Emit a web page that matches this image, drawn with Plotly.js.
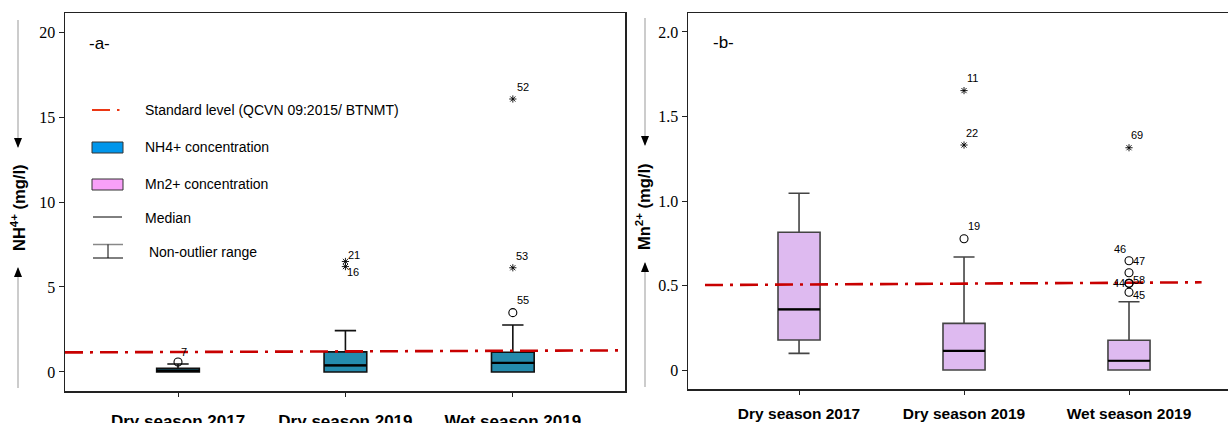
<!DOCTYPE html>
<html><head><meta charset="utf-8">
<script src="https://cdn.plot.ly/plotly-3.0.1.min.js"></script>
<style>html,body{margin:0;padding:0;background:#fff}#chart{width:1228px;height:423px}</style>
</head><body><div id="chart"></div>
<script>
// ---------- DATA ----------
const categories = ['Dry season 2017', 'Dry season 2019', 'Wet season 2019'];

// NH4+ (panel a)
const nh4Q1     = [0.00, 0.00, 0.00];
const nh4Median = [0.08, 0.39, 0.53];
const nh4Q3     = [0.22, 1.18, 1.16];
const nh4Lower  = [0.00, 0.00, 0.00];
const nh4Upper  = [0.47, 2.43, 2.76];
const nh4OutCat  = [0, 1, 1, 2, 2, 2];
const nh4OutVal  = [0.59, 6.50, 6.20, 16.06, 6.13, 3.49];
const nh4OutId   = ['7', '21', '16', '52', '53', '55'];
const nh4OutKind = ['o', '*', '*', '*', '*', 'o'];
const nh4Standard = [1.15, 1.27];   // standard level line (left end, right end)

// Mn2+ (panel b)
const mnQ1     = [0.178, 0.000, 0.000];
const mnMedian = [0.359, 0.114, 0.055];
const mnQ3     = [0.815, 0.276, 0.176];
const mnLower  = [0.099, 0.000, 0.000];
const mnUpper  = [1.046, 0.669, 0.404];
const mnOutCat  = [1, 1, 1, 2, 2, 2, 2, 2, 2];
const mnOutVal  = [1.653, 1.331, 0.777, 1.315, 0.647, 0.576, 0.513, 0.513, 0.460];
const mnOutId   = ['11', '22', '19', '69', '47', '46', '44', '58', '45'];
const mnOutKind = ['*', '*', 'o', '*', 'o', 'o', 'o', 'o', 'o'];
const mnStandard = [0.503, 0.519];

const yTicksA = [0, 5, 10, 15, 20];
const yTickTextA = ['0', '5', '10', '15', '20'];
const yTicksB = [0, 0.5, 1.0, 1.5, 2.0];
const yTickTextB = ['0', '0.5', '1.0', '1.5', '2.0'];

// ---------- STYLE / LAYOUT ----------
const W = 1228, H = 423;
const px = v => v / W;
const py = v => 1 - v / H;
const xRangeA = [-0.675, 2.67], yRangeA = [-1.12, 21.12];
const xRangeB = [-0.673, 2.60], yRangeB = [-0.112, 2.112];
const stdSpanB = [-0.57, 2.44];
const BOXW = 0.255;
// label offsets [dx, dy(px, down positive)]
const nh4LabelOff = [[6,-10],[9,-6],[8,5],[10,-12],[9,-12],[10,-13]];
const mnLabelOff  = [[8,-13],[8,-12],[10,-13],[8,-13],[10,0],[-9,-24],[-10,0],[10,-3],[10,3]];

const RED = 'rgb(200,0,0)';
const DASH = '18px,7px,3px,7px';
const SANS = 'Liberation Sans, Arial, sans-serif';
const SERIF = 'Liberation Serif, Times New Roman, serif';

function boxTrace(q1, med, q3, lo, up, fill, lineColor, xa, ya) {
  return {
    type: 'box', x: categories.map((c, i) => i), q1: q1, median: med, q3: q3,
    lowerfence: lo, upperfence: up, fillcolor: fill,
    line: {color: lineColor, width: 1.6}, width: BOXW, whiskerwidth: 0.5,
    boxpoints: false, hoverinfo: 'skip', showlegend: false, xaxis: xa, yaxis: ya
  };
}
function medianTrace(med, xa, ya) {
  const xs = [], ys = [];
  med.forEach((m, i) => { xs.push(i - BOXW / 2, i + BOXW / 2, null); ys.push(m, m, null); });
  return {type: 'scatter', mode: 'lines', x: xs, y: ys, line: {color: '#000', width: 2.2},
    hoverinfo: 'skip', showlegend: false, xaxis: xa, yaxis: ya};
}
function outTraces(cat, val, kind, xa, ya) {
  const res = [];
  [['o', 'circle-open', 8, 1.1], ['*', 'asterisk-open', 6, 0.9]].forEach(([k, sym, sz, lw]) => {
    const idx = kind.map((v, i) => v === k ? i : -1).filter(i => i >= 0);
    res.push({
      type: 'scatter', mode: 'markers', x: idx.map(i => cat[i]), y: idx.map(i => val[i]),
      marker: {symbol: sym, size: sz, color: '#000', line: {color: '#000', width: lw}},
      hoverinfo: 'skip', showlegend: false, xaxis: xa, yaxis: ya
    });
  });
  return res;
}
function outLabels(cat, val, ids, off, xr, yr) {
  return ids.map((t, i) => ({
    text: t, x: cat[i], y: val[i], xref: xr, yref: yr, showarrow: false,
    xshift: off[i][0], yshift: -off[i][1], xanchor: 'center', yanchor: 'middle',
    font: {family: SANS, size: 11, color: '#000'}
  }));
}

const data = [
  boxTrace(nh4Q1, nh4Median, nh4Q3, nh4Lower, nh4Upper, 'rgb(36,139,173)', '#111', 'x', 'y'),
  boxTrace(mnQ1, mnMedian, mnQ3, mnLower, mnUpper, 'rgb(222,186,240)', '#444', 'x2', 'y2'),
  medianTrace(nh4Median, 'x', 'y'),
  medianTrace(mnMedian, 'x2', 'y2'),
  {type: 'scatter', mode: 'lines', x: [xRangeA[0], xRangeA[1] - 0.01], y: nh4Standard,
   line: {color: RED, width: 2.6, dash: DASH}, hoverinfo: 'skip', showlegend: false, xaxis: 'x', yaxis: 'y'},
  {type: 'scatter', mode: 'lines', x: stdSpanB, y: mnStandard,
   line: {color: RED, width: 2.6, dash: DASH}, hoverinfo: 'skip', showlegend: false, xaxis: 'x2', yaxis: 'y2'},
  ...outTraces(nh4OutCat, nh4OutVal, nh4OutKind, 'x', 'y'),
  ...outTraces(mnOutCat, mnOutVal, mnOutKind, 'x2', 'y2')
];

const xTickFontA = {family: SANS, size: 17, color: '#000', weight: 'bold'};
const xTickFontB = {family: SANS, size: 15.5, color: '#000', weight: 'bold'};
const yTickFont = {family: SERIF, size: 16, color: '#000'};

const shapes = [];
// y-title arrows
function arrowPair(x, t0, t1, b0, b1) {
  shapes.push({type: 'line', xref: 'paper', yref: 'paper', x0: px(x), x1: px(x), y0: py(t0), y1: py(t1), line: {color: '#999', width: 1}});
  shapes.push({type: 'line', xref: 'paper', yref: 'paper', x0: px(x), x1: px(x), y0: py(b0), y1: py(b1), line: {color: '#999', width: 1}});
  shapes.push({type: 'path', xref: 'paper', yref: 'paper', fillcolor: '#000', line: {width: 0},
    path: `M ${px(x)} ${py(t1 + 1)} L ${px(x - 4)} ${py(t1 - 9)} L ${px(x + 4)} ${py(t1 - 9)} Z`});
  shapes.push({type: 'path', xref: 'paper', yref: 'paper', fillcolor: '#000', line: {width: 0},
    path: `M ${px(x)} ${py(b1 - 1)} L ${px(x - 4)} ${py(b1 + 9)} L ${px(x + 4)} ${py(b1 + 9)} Z`});
}
arrowPair(18, 20, 147, 388, 268);
arrowPair(645, 18, 145, 387, 263);
// legend symbols (panel a)
shapes.push({type: 'line', xref: 'paper', yref: 'paper', x0: px(92), x1: px(110), y0: py(110), y1: py(110), line: {color: 'rgb(235,55,20)', width: 2}});
shapes.push({type: 'line', xref: 'paper', yref: 'paper', x0: px(117), x1: px(119.5), y0: py(110), y1: py(110), line: {color: 'rgb(235,55,20)', width: 2}});
shapes.push({type: 'rect', xref: 'paper', yref: 'paper', x0: px(92), x1: px(123), y0: py(142), y1: py(153), fillcolor: 'rgb(0,150,235)', line: {color: '#333', width: 1}});
shapes.push({type: 'rect', xref: 'paper', yref: 'paper', x0: px(92), x1: px(123), y0: py(179), y1: py(190), fillcolor: 'rgb(248,160,248)', line: {color: '#333', width: 1}});
shapes.push({type: 'line', xref: 'paper', yref: 'paper', x0: px(93), x1: px(122), y0: py(217), y1: py(217), line: {color: '#000', width: 1}});
shapes.push({type: 'line', xref: 'paper', yref: 'paper', x0: px(93), x1: px(123), y0: py(244.5), y1: py(244.5), line: {color: '#888', width: 1.5}});
shapes.push({type: 'line', xref: 'paper', yref: 'paper', x0: px(108), x1: px(108), y0: py(244.5), y1: py(258), line: {color: '#000', width: 1}});
shapes.push({type: 'line', xref: 'paper', yref: 'paper', x0: px(93), x1: px(123), y0: py(258), y1: py(258), line: {color: '#000', width: 1}});

const txtFont = {family: SANS, size: 14, color: '#000'};
function ptext(t, x, y, font, extra) {
  return Object.assign({text: t, xref: 'paper', yref: 'paper', x: px(x), y: py(y), showarrow: false,
    xanchor: 'left', yanchor: 'middle', font: font}, extra || {});
}
const annotations = [
  ptext('-a-', 87, 43, {family: SANS, size: 17, color: '#000'}),
  ptext('-b-', 711, 42, {family: SANS, size: 17, color: '#000'}),
  ptext('Standard level (QCVN 09:2015/ BTNMT)', 143, 110, txtFont),
  ptext('NH4+ concentration', 143, 147, txtFont),
  ptext('Mn2+ concentration', 143, 184, txtFont),
  ptext('Median', 143, 218, txtFont),
  ptext(' Non-outlier range', 143, 252, txtFont),
  ptext('<b>NH<sup>4+</sup> (mg/l)</b>', 18, 208, {family: SANS, size: 16.5, color: '#000'}, {xanchor: 'center', textangle: -90}),
  ptext('<b>Mn<sup>2+</sup> (mg/l)</b>', 643, 207, {family: SANS, size: 16.5, color: '#000'}, {xanchor: 'center', textangle: -90}),
  ...outLabels(nh4OutCat, nh4OutVal, nh4OutId, nh4LabelOff, 'x', 'y'),
  ...outLabels(mnOutCat, mnOutVal, mnOutId, mnLabelOff, 'x2', 'y2')
];

const layout = {
  width: W, height: H, margin: {l: 0, r: 0, t: 0, b: 0},
  paper_bgcolor: '#fff', plot_bgcolor: '#fff', showlegend: false,
  font: {family: SANS},
  xaxis: {domain: [px(65), px(625)], range: xRangeA, tickvals: [0, 1, 2], ticktext: categories,
    showgrid: false, zeroline: false, showline: true, mirror: true, linecolor: '#222', linewidth: 1.5,
    ticks: 'outside', ticklen: 4, tickcolor: '#222', tickfont: xTickFontA, ticklabelstandoff: 10, automargin: false, anchor: 'y'},
  yaxis: {domain: [py(391), py(13)], range: yRangeA, tickvals: yTicksA, ticktext: yTickTextA,
    showgrid: false, zeroline: false, showline: true, mirror: true, linecolor: '#222', linewidth: 1.5,
    ticks: 'outside', ticklen: 5, tickcolor: '#222', tickfont: yTickFont, automargin: false, anchor: 'x'},
  xaxis2: {domain: [px(688), 1], range: xRangeB, tickvals: [0, 1, 2], ticktext: categories,
    showgrid: false, zeroline: false, showline: true, mirror: true, linecolor: '#222', linewidth: 1.5,
    ticks: 'outside', ticklen: 4, tickcolor: '#222', tickfont: xTickFontB, ticklabelstandoff: 6, automargin: false, anchor: 'y2'},
  yaxis2: {domain: [py(389), py(13)], range: yRangeB, tickvals: yTicksB, ticktext: yTickTextB,
    showgrid: false, zeroline: false, showline: true, mirror: false, linecolor: '#222', linewidth: 1.5,
    ticks: 'outside', ticklen: 5, tickcolor: '#222', tickfont: yTickFont, automargin: false, anchor: 'x2'},
  shapes: shapes, annotations: annotations
};

Plotly.newPlot('chart', data, layout, {staticPlot: true, displayModeBar: false});
</script></body></html>
